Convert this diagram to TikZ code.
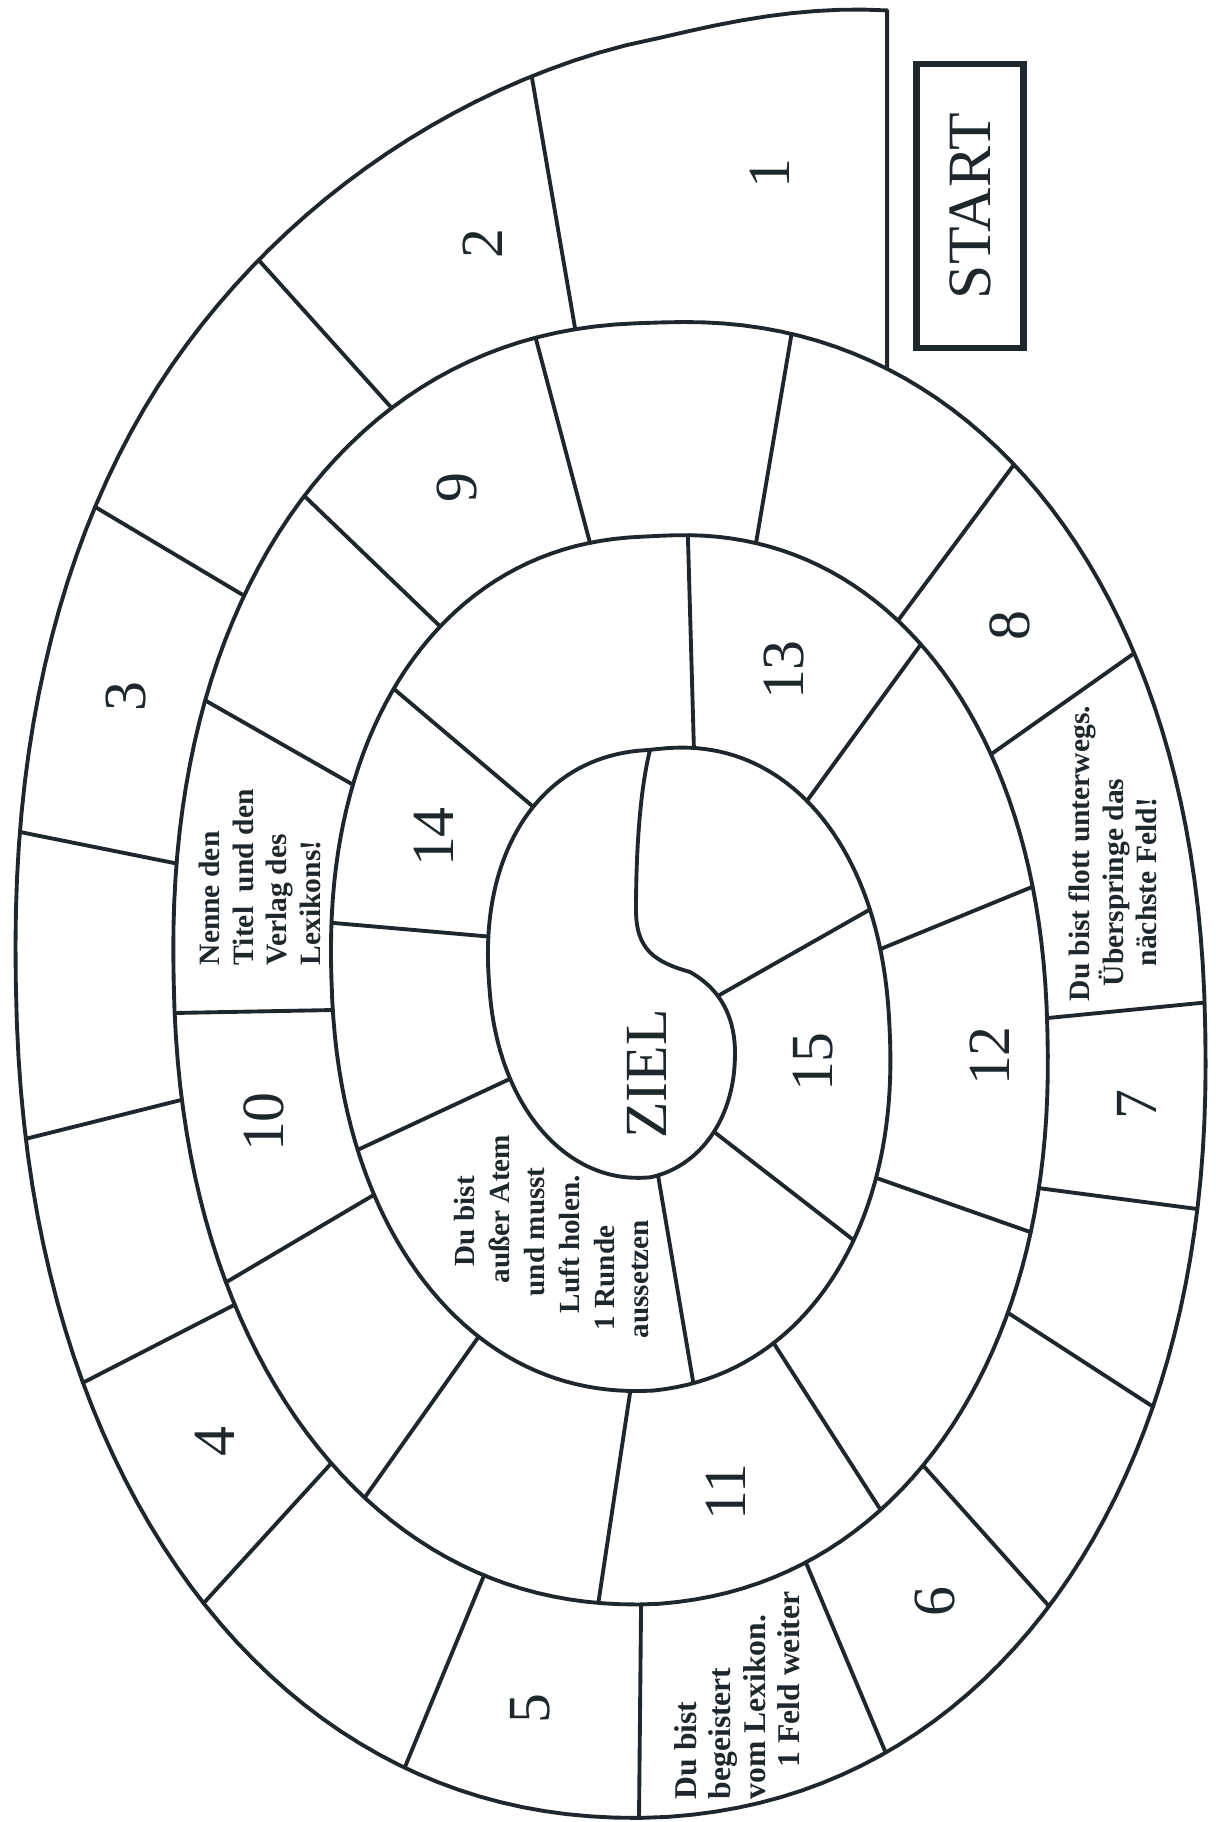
\documentclass[tikz,border=0pt]{standalone}
\usepackage{fontspec}
\setmainfont{Liberation Serif}
\usetikzlibrary{calc,intersections}
\definecolor{tinte}{RGB}{30,40,44}
\tikzset{
  linie/.style={draw=tinte, line width=1.1pt, line join=round, line cap=round},
  zahl/.style={rotate=90, inner sep=0pt, font=\fontsize{17}{20}\selectfont},
  hinweis/.style={rotate=90, anchor=west, align=left, inner sep=0pt, font=\bfseries\fontsize{8.4}{9.6}\selectfont},
  startfeld/.style={draw=tinte, line width=1.8pt, rotate=90, minimum width=2.84cm, minimum height=1.07cm, font=\fontsize{17.5}{20}\selectfont},
  declare function={
    spw(\x)=\x*pow(abs(\x)+0.0001,-0.08);
    spe(\x)=max(0,1-(\x-70)/65);
    spa(\x)=713-0.43889*\x;
    spb(\x)=961-0.59306*\x+145*spe(\x)*spe(\x);
    spx(\x)=650+spa(\x)*spw(cos(\x));
    spy(\x)=1017-spb(\x)*spw(sin(\x))-22*max(0,-cos(\x));
  }
}
\newcommand{\trenner}[2]{%
  \path[name path=schnitt] ($#1!-0.25!#2$) -- ($#2!-0.25!#1$);
  \draw[linie, name intersections={of=spirale and schnitt}] (intersection-1) -- (intersection-2);}

\begin{document}
\begin{tikzpicture}[tinte, x=0.01cm, y=-0.01cm]
\useasboundingbox (0,0) rectangle (1215,1822);

\draw[linie, name path=spirale] plot[domain=71.5:1420, samples=676] ({spx(\x)},{spy(\x)})
  .. controls (737,1020) and (722,990) .. (690,972)
  .. controls (655,962) and (636,950) .. (636,910)
  .. controls (636,850) and (640,790) .. (650,750);

\coordinate (s0) at ({spx(71.5)},{spy(71.5)});
\path[name path=startlinie] ($(s0)+(0,20)$) -- ++(0,480);
\draw[linie, name intersections={of=spirale and startlinie}] (s0) -- (intersection-1);

\trenner{(532,78)}{(575,328)}
\trenner{(273,276)}{(398,415)}
\trenner{(107,514)}{(253,601)}
\trenner{(15,831)}{(174,863)}
\trenner{(29,1138)}{(177,1101)}
\trenner{(96,1376)}{(238,1303)}
\trenner{(212,1594)}{(337,1457)}
\trenner{(407,1762)}{(485,1573)}
\trenner{(639,1818)}{(641,1612)}
\trenner{(885,1751)}{(809,1570)}
\trenner{(1048,1605)}{(929,1472)}
\trenner{(1155,1408)}{(1016,1318)}
\trenner{(1205,1210)}{(1053,1190)}
\trenner{(1200,1003)}{(1058,1017)}
\trenner{(1126,659)}{(990,755)}
\trenner{(1001,482)}{(891,630)}
\trenner{(790,343)}{(755,549)}
\trenner{(537,343)}{(590,543)}
\trenner{(320,511)}{(447,633)}
\trenner{(215,706)}{(357,787)}
\trenner{(174,1013)}{(334,1010)}
\trenner{(235,1277)}{(372,1196)}
\trenner{(375,1483)}{(482,1332)}
\trenner{(598,1605)}{(630,1393)}
\trenner{(882,1512)}{(780,1353)}
\trenner{(1033,1233)}{(885,1181)}
\trenner{(1032,887)}{(883,948)}
\trenner{(908,662)}{(804,805)}
\trenner{(688,540)}{(694,752)}
\trenner{(407,700)}{(537,810)}
\trenner{(334,923)}{(494,937)}
\trenner{(366,1146)}{(514,1077)}
\trenner{(694,1387)}{(659,1181)}
\trenner{(856,1242)}{(722,1138)}
\trenner{(862,914)}{(716,997)}

\node[startfeld] (start) at (970,206) {START};

\node[zahl] (z1) at (770,174) {1};
\node[zahl] (z2) at (483,244) {2};
\node[zahl] (z3) at (126,697) {3};
\node[zahl] (z4) at (215,1442) {4};
\node[zahl] (z5) at (530,1709) {5};
\node[zahl] (z6) at (935,1602) {6};
\node[zahl] (z7) at (1137,1105) {7};
\node[zahl] (z8) at (1010,626) {8};
\node[zahl] (z9) at (457,488) {9};
\node[zahl] (z10) at (264,1122) {10};
\node[zahl] (z11) at (726,1492) {11};
\node[zahl] (z12) at (990,1056) {12};
\node[zahl] (z13) at (784,670) {13};
\node[zahl] (z14) at (434,837) {14};
\node[zahl] (z15) at (813,1062) {15};
\node[zahl] (ziel) at (647,1074) {ZIEL};

\node[hinweis] (nenne) at (260,966) {Nenne den\\Titel\ \ und den\\Verlag des\\Lexikons!};
\node[hinweis] (flott) at (1113,1002) {Du bist flott unterwegs.\\\hspace*{0.15cm}Überspringe das\\\hspace*{0.35cm}nächste Feld!};
\node[hinweis, font=\bfseries\fontsize{8.3}{9.9}\selectfont] (atem) at (552,1339) {\hspace*{0.72cm}Du bist\\\hspace*{0.55cm}außer Atem\\\hspace*{0.42cm}und musst\\\hspace*{0.25cm}Luft holen.\\\hspace*{0.08cm}1 Runde\\aussetzen};
\node[hinweis, font=\bfseries\fontsize{9}{9.8}\selectfont] (begeistert) at (737,1800) {Du bist\\begeistert\\vom Lexikon.\\\hspace*{0.32cm}1 Feld weiter};

\end{tikzpicture}
\end{document}
